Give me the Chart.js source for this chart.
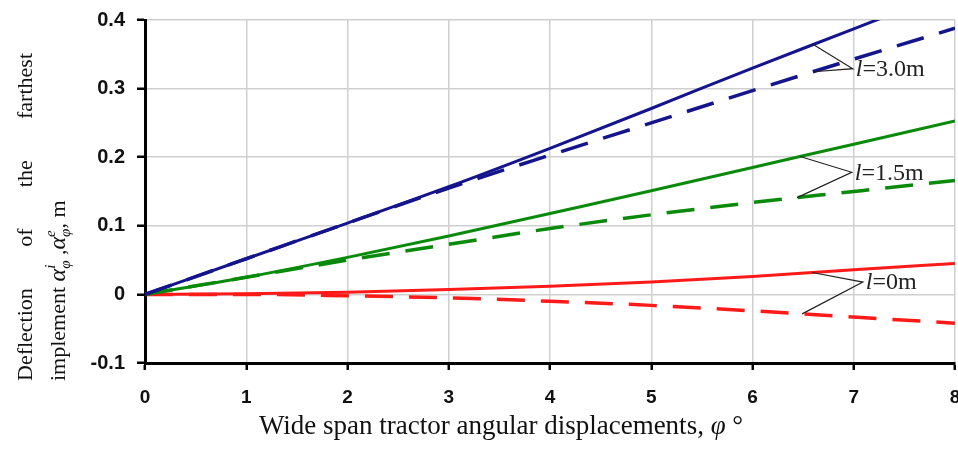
<!DOCTYPE html>
<html>
<head>
<meta charset="utf-8">
<script src="https://cdn.jsdelivr.net/npm/chart.js@4/dist/chart.umd.min.js"></script>
<style>
  html, body { margin: 0; padding: 0; background: #fff; }
  #wrap { width: 958px; height: 449px; }
</style>
</head>
<body>
<div id="wrap"><canvas id="c" width="958" height="449"></canvas></div>
<script>
// angular displacement, deg
const phi = [0, 1, 2, 3, 4, 5, 6, 7, 8];
const yTicks = [-0.1, 0, 0.1, 0.2, 0.3, 0.4];

// deflection, m (solid = i, dashed = e)
const l30Solid = [0, 0.052, 0.104, 0.157, 0.213, 0.271, 0.330, 0.387, 0.445];
const l30Dashed = [0, 0.052, 0.104, 0.155, 0.203, 0.250, 0.297, 0.343, 0.388];
const l15Solid = [0, 0.025, 0.054, 0.085, 0.118, 0.151, 0.185, 0.219, 0.253];
const l15Dashed = [0, 0.025, 0.050, 0.073, 0.096, 0.116, 0.134, 0.150, 0.166];
const l0Solid = [0, 0.001, 0.003, 0.007, 0.012, 0.018, 0.026, 0.036, 0.045];
const l0Dashed = [0, 0, -0.002, -0.005, -0.010, -0.016, -0.024, -0.033, -0.042];

// callouts: [label, vertex x, vertex y, solid x, dashed x, solid series, dashed series]
const callouts = [
  ['=3.0m', 6.99, 0.329, 6.6, 6.6, l30Solid, l30Dashed],
  ['=1.5m', 6.98, 0.178, 6.47, 6.44, l15Solid, l15Dashed],
  ['=0m', 7.09, 0.018, 6.59, 6.49, l0Solid, l0Dashed]
];

const BLUE = '#14148c';
const GREEN = '#0a8a0a';
const RED = '#ff1a1a';

const toPts = arr => arr.map((v, i) => ({ x: phi[i], y: v }));
const interp = (arr, x) => {
  const i = Math.min(Math.floor(x), phi.length - 2);
  const t = x - phi[i];
  return arr[i] + (arr[i + 1] - arr[i]) * t;
};

const line = (data, color, dashed) => ({
  data: toPts(data),
  borderColor: color,
  borderWidth: dashed ? 3.5 : 3,
  borderDash: dashed ? [28, 16] : [],
  pointRadius: 0,
  cubicInterpolationMode: 'monotone',
  fill: false
});

// callouts and axis titles
const annotations = {
  id: 'annotations',
  afterDatasetsDraw(chart) {
    const { ctx, scales: { x, y } } = chart;
    ctx.save();
    ctx.strokeStyle = '#222';
    ctx.lineWidth = 1.2;
    ctx.fillStyle = '#222';
    callouts.forEach(([txt, vx, vy, sx, dx, sArr, dArr]) => {
      const px = x.getPixelForValue(vx), py = y.getPixelForValue(vy);
      ctx.beginPath();
      ctx.moveTo(x.getPixelForValue(sx), y.getPixelForValue(interp(sArr, sx)));
      ctx.lineTo(px, py);
      ctx.lineTo(x.getPixelForValue(dx), y.getPixelForValue(interp(dArr, dx)));
      ctx.stroke();
      ctx.textBaseline = 'middle';
      ctx.font = 'italic 24px "Liberation Serif"';
      ctx.fillText('l', px + 3, py + 1);
      const w = ctx.measureText('l').width;
      ctx.font = '24px "Liberation Serif"';
      ctx.fillText(txt, px + 3 + w, py + 1);
    });
    ctx.restore();
  },
  afterDraw(chart) {
    const { ctx } = chart;
    ctx.save();
    ctx.fillStyle = '#111';
    ctx.textBaseline = 'alphabetic';

    // x title
    const parts = [['Wide span tractor angular displacements, ', ''], ['φ', 'italic '], [' °', '']];
    let total = 0;
    parts.forEach(([t, s]) => { ctx.font = s + '27px "Liberation Serif"'; total += ctx.measureText(t).width; });
    let xx = 501 - total / 2;
    parts.forEach(([t, s]) => {
      ctx.font = s + '27px "Liberation Serif"';
      ctx.fillText(t, xx, 434);
      xx += ctx.measureText(t).width;
    });

    // y title (rotated)
    ctx.rotate(-Math.PI / 2);
    const bottom = -381, top = -53;
    // line 1, justified
    const words = ['Deflection', 'of', 'the', 'farthest'];
    ctx.font = '22px "Liberation Serif"';
    const ww = words.map(w => ctx.measureText(w).width);
    const gap = ((top - bottom) - ww.reduce((a, b) => a + b, 0)) / (words.length - 1);
    let p = bottom;
    words.forEach((w, i) => { ctx.fillText(w, p, 32); p += ww[i] + gap; });
    // line 2 with sub/superscripts
    p = bottom;
    const put = (t, font, dy) => {
      ctx.font = font;
      ctx.fillText(t, p, 65 + dy);
      p += ctx.measureText(t).width;
    };
    put('implement', '22px "Liberation Serif"', 0);
    const sym = (sup) => {
      put('α', 'italic 24px "Liberation Serif"', 0);
      const s0 = p;
      put(sup, 'italic 15px "Liberation Serif"', -10);
      const s1 = p;
      p = s0;
      put('φ', 'italic 15px "Liberation Serif"', 5);
      p = Math.max(p, s1);
    };
    put(' ', '22px "Liberation Serif"', 0);
    sym('i');
    put(' ,', '22px "Liberation Serif"', 0);
    sym('e');
    put(', m', '22px "Liberation Serif"', 0);
    ctx.restore();
  }
};

new Chart(document.getElementById('c'), {
  type: 'line',
  data: {
    datasets: [
      line(l30Solid, BLUE, false),
      line(l30Dashed, BLUE, true),
      line(l15Solid, GREEN, false),
      line(l15Dashed, GREEN, true),
      line(l0Solid, RED, false),
      line(l0Dashed, RED, true)
    ]
  },
  options: {
    responsive: false,
    animation: false,
    layout: { padding: { left: 0, right: 3, top: 20, bottom: 0 } },
    scales: {
      x: {
        type: 'linear',
        min: 0,
        max: 8,
        afterBuildTicks: s => { s.ticks = phi.map(v => ({ value: v })); },
        afterFit: s => { s.height = 86; s.paddingLeft = 0; s.paddingRight = 0; },
        border: { color: '#000', width: 3 },
        grid: { color: '#cfcfcf', lineWidth: 1.5, tickColor: '#000', tickWidth: 2.5, tickLength: 7 },
        ticks: {
          color: '#111',
          font: { family: 'Liberation Sans', weight: 'bold', size: 19 },
          padding: 16,
          maxRotation: 0
        }
      },
      y: {
        min: -0.1,
        max: 0.4,
        afterBuildTicks: s => { s.ticks = yTicks.map(v => ({ value: v })); },
        afterFit: s => { s.width = 145; s.paddingTop = 0; s.paddingBottom = 0; },
        border: { color: '#000', width: 3 },
        grid: { color: '#cfcfcf', lineWidth: 1.5, tickColor: '#000', tickWidth: 2.5, tickLength: 8 },
        ticks: {
          color: '#111',
          font: { family: 'Liberation Sans', weight: 'bold', size: 20 },
          padding: 12,
          callback: v => (v === 0 ? '0' : String(Number(v.toFixed(1))))
        }
      }
    },
    plugins: {
      legend: { display: false },
      tooltip: { enabled: false }
    }
  },
  plugins: [annotations]
});
</script>
</body>
</html>
